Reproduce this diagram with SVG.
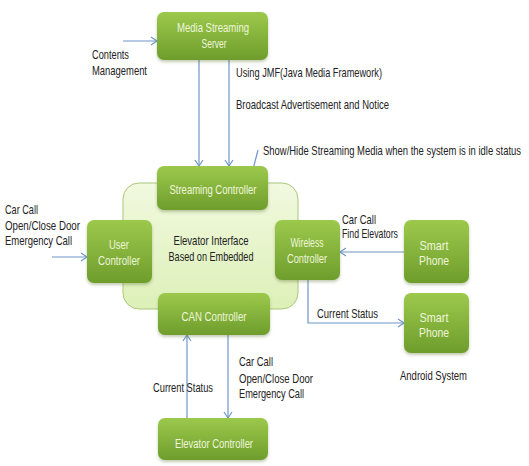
<svg xmlns="http://www.w3.org/2000/svg" width="529" height="466" viewBox="0 0 529 466">
<defs>
<linearGradient id="gn" x1="0" y1="0" x2="0" y2="1">
<stop offset="0" stop-color="#9cc94c"/>
<stop offset="1" stop-color="#6f9d2c"/>
</linearGradient>
<linearGradient id="bg" x1="0" y1="0" x2="0" y2="1">
<stop offset="0" stop-color="#f1f9df"/>
<stop offset="1" stop-color="#ddf0b8"/>
</linearGradient>
<filter id="sh" x="-10%" y="-10%" width="130%" height="140%">
<feDropShadow dx="0" dy="2" stdDeviation="1.5" flood-color="#556b2f" flood-opacity="0.35"/>
</filter>
<marker id="ah" markerWidth="10" markerHeight="10" refX="8" refY="5" orient="auto" markerUnits="userSpaceOnUse">
<polyline points="2,1 8,5 2,9" fill="none" stroke="#6f96c8" stroke-width="1.2"/>
</marker>
</defs>
<style>
.node rect{fill:url(#gn);filter:url(#sh)}
.nt{font-family:"Liberation Sans Narrow","Liberation Sans",Arial,sans-serif;font-size:13px;fill:#eef6dc;text-anchor:middle}
.lb{font-family:"Liberation Sans Narrow","Liberation Sans",Arial,sans-serif;font-size:13px;fill:#222}
.cn{fill:none;stroke:#6f96c8;stroke-width:1.2;marker-end:url(#ah)}
</style>
<rect width="529" height="466" fill="#ffffff"/>
<g id="interface">
<rect x="123" y="183" width="175" height="126" rx="16" fill="url(#bg)" stroke="#a9c77a" stroke-width="1"/>
<text class="lb" x="211" y="245" text-anchor="middle" textLength="75" lengthAdjust="spacingAndGlyphs">Elevator Interface</text>
<text class="lb" x="211" y="261" text-anchor="middle" textLength="85" lengthAdjust="spacingAndGlyphs">Based on Embedded</text>
</g>
<g id="connectors">
<line class="cn" x1="123" y1="41" x2="157" y2="41"/>
<line class="cn" x1="199" y1="60" x2="199" y2="166"/>
<line class="cn" x1="229" y1="60" x2="229" y2="166"/>
<line class="cn" x1="258" y1="150" x2="252" y2="173"/>
<line class="cn" x1="52" y1="257" x2="87" y2="257"/>
<line class="cn" x1="404" y1="252" x2="340" y2="252"/>
<polyline class="cn" points="308,280 308,323 404,323"/>
<line class="cn" x1="187" y1="418" x2="187" y2="335"/>
<line class="cn" x1="228" y1="335" x2="228" y2="418"/>
</g>
<g id="labels">
<text class="lb" x="92" y="59" textLength="37" lengthAdjust="spacingAndGlyphs">Contents</text>
<text class="lb" x="92" y="75" textLength="55" lengthAdjust="spacingAndGlyphs">Management</text>
<text class="lb" x="236" y="77" textLength="146" lengthAdjust="spacingAndGlyphs">Using JMF(Java Media Framework)</text>
<text class="lb" x="236" y="109" textLength="153" lengthAdjust="spacingAndGlyphs">Broadcast Advertisement and Notice</text>
<text class="lb" transform="translate(263,155) scale(1,1.25)" x="0" y="0" style="font-size:9.6px" textLength="258" lengthAdjust="spacingAndGlyphs">Show/Hide Streaming Media when the system is in idle status</text>
<text class="lb" x="5" y="214" textLength="33" lengthAdjust="spacingAndGlyphs">Car Call</text>
<text class="lb" x="5" y="230" textLength="75" lengthAdjust="spacingAndGlyphs">Open/Close Door</text>
<text class="lb" x="5" y="245" textLength="67" lengthAdjust="spacingAndGlyphs">Emergency Call</text>
<text class="lb" x="342" y="224" textLength="34" lengthAdjust="spacingAndGlyphs">Car Call</text>
<text class="lb" x="342" y="238" textLength="56" lengthAdjust="spacingAndGlyphs">Find Elevators</text>
<text class="lb" x="317" y="318" textLength="61" lengthAdjust="spacingAndGlyphs">Current Status</text>
<text class="lb" x="400" y="380" textLength="67" lengthAdjust="spacingAndGlyphs">Android System</text>
<text class="lb" x="153" y="392" textLength="60" lengthAdjust="spacingAndGlyphs">Current Status</text>
<text class="lb" x="239" y="366" textLength="34" lengthAdjust="spacingAndGlyphs">Car Call</text>
<text class="lb" x="239" y="383" textLength="74" lengthAdjust="spacingAndGlyphs">Open/Close Door</text>
<text class="lb" x="239" y="398" textLength="65" lengthAdjust="spacingAndGlyphs">Emergency Call</text>
</g>
<g id="media-streaming-server" class="node">
<rect x="157" y="12" width="111" height="48" rx="7"/>
<text class="nt" x="213" y="32" textLength="72" lengthAdjust="spacingAndGlyphs">Media Streaming</text>
<text class="nt" x="214" y="48" textLength="25" lengthAdjust="spacingAndGlyphs">Server</text>
</g>
<g id="streaming-controller" class="node">
<rect x="157" y="166" width="111" height="44" rx="7"/>
<text class="nt" x="213" y="194" textLength="87" lengthAdjust="spacingAndGlyphs">Streaming Controller</text>
</g>
<g id="user-controller" class="node">
<rect x="87" y="220" width="65" height="63" rx="7"/>
<text class="nt" x="119" y="249" textLength="20" lengthAdjust="spacingAndGlyphs">User</text>
<text class="nt" x="119" y="265" textLength="42" lengthAdjust="spacingAndGlyphs">Controller</text>
</g>
<g id="wireless-controller" class="node">
<rect x="275" y="220" width="65" height="60" rx="7"/>
<text class="nt" x="307" y="247" textLength="33" lengthAdjust="spacingAndGlyphs">Wireless</text>
<text class="nt" x="307" y="263" textLength="40" lengthAdjust="spacingAndGlyphs">Controller</text>
</g>
<g id="smart-phone-1" class="node">
<rect x="404" y="220" width="65" height="63" rx="7"/>
<text class="nt" x="434" y="250" textLength="29" lengthAdjust="spacingAndGlyphs">Smart</text>
<text class="nt" x="434" y="265" textLength="30" lengthAdjust="spacingAndGlyphs">Phone</text>
</g>
<g id="smart-phone-2" class="node">
<rect x="404" y="293" width="65" height="60" rx="7"/>
<text class="nt" x="434" y="322" textLength="29" lengthAdjust="spacingAndGlyphs">Smart</text>
<text class="nt" x="434" y="337" textLength="30" lengthAdjust="spacingAndGlyphs">Phone</text>
</g>
<g id="can-controller" class="node">
<rect x="158" y="293" width="112" height="42" rx="7"/>
<text class="nt" x="214" y="321" textLength="65" lengthAdjust="spacingAndGlyphs">CAN Controller</text>
</g>
<g id="elevator-controller" class="node">
<rect x="158" y="418" width="110" height="42" rx="7"/>
<text class="nt" x="214" y="448" textLength="78" lengthAdjust="spacingAndGlyphs">Elevator Controller</text>
</g>
</svg>
